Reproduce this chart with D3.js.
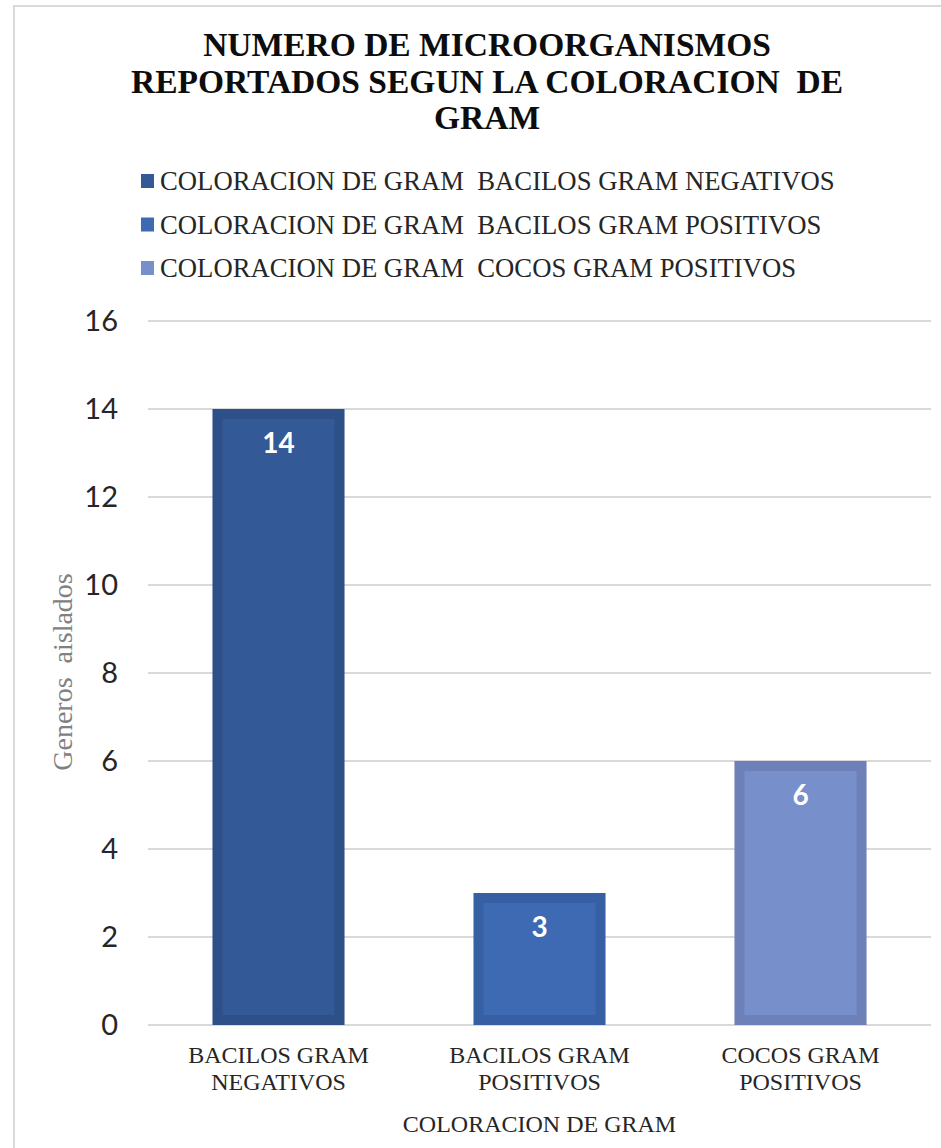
<!DOCTYPE html>
<html>
<head>
<meta charset="utf-8">
<script src="https://cdn.jsdelivr.net/npm/d3@7"></script>
<style>
  body { margin: 0; background: #fff; }
  svg { display: block; }
</style>
</head>
<body>
<svg id="chart" width="941" height="1148"></svg>
<script>
// Data
const categories = ['BACILOS GRAM NEGATIVOS', 'BACILOS GRAM POSITIVOS', 'COCOS GRAM POSITIVOS'];
const categoryLines = [['BACILOS GRAM', 'NEGATIVOS'], ['BACILOS GRAM', 'POSITIVOS'], ['COCOS GRAM', 'POSITIVOS']];
const values = [14, 3, 6];
const legendLabels = [
  'COLORACION DE GRAM  BACILOS GRAM NEGATIVOS',
  'COLORACION DE GRAM  BACILOS GRAM POSITIVOS',
  'COLORACION DE GRAM  COCOS GRAM POSITIVOS'
];
const yTicks = [0, 2, 4, 6, 8, 10, 12, 14, 16];
const titleLines = ['NUMERO DE MICROORGANISMOS', 'REPORTADOS SEGUN LA COLORACION  DE', 'GRAM'];

const fills = ['#335996', '#3e69b3', '#7790cb'];
const borders = ['#2e5088', '#3760a4', '#6e80b8'];

const SERIF = '"Liberation Serif", "Times New Roman", serif';
const SANS = 'Lato, "Noto Sans", sans-serif';

const svg = d3.select('#chart');

// outer frame
svg.append('rect')
  .attr('x', 14).attr('y', 6).attr('width', 960).attr('height', 1160)
  .attr('fill', 'none').attr('stroke', '#d9d9d9').attr('stroke-width', 2);

const margin = { left: 148, right: 931, top: 321, bottom: 1025 };

const x = d3.scaleBand().domain(categories).range([margin.left, margin.right]).paddingInner(0.494).paddingOuter(0.247);
const y = d3.scaleLinear().domain([0, 16]).range([margin.bottom, margin.top]);

// Title
svg.append('text')
  .attr('font-family', SERIF)
  .attr('text-anchor', 'middle')
  .attr('font-weight', 'bold')
  .attr('font-size', 33.5)
  .attr('fill', '#0d0d0d')
  .style('white-space', 'pre')
  .selectAll('tspan')
  .data(titleLines)
  .join('tspan')
  .attr('x', 487)
  .attr('y', (d, i) => 56 + i * 36.5)
  .text(d => d);

// Legend
const legend = svg.append('g').selectAll('g')
  .data(legendLabels)
  .join('g')
  .attr('transform', (d, i) => `translate(141, ${181 + i * 43.5})`);

legend.append('rect')
  .attr('x', 0).attr('y', -7).attr('width', 13).attr('height', 14)
  .attr('fill', (d, i) => fills[i]);

legend.append('text')
  .attr('font-family', SERIF)
  .attr('x', 19).attr('y', 9)
  .attr('font-size', 26.7)
  .attr('fill', '#262626')
  .style('white-space', 'pre')
  .text(d => d);

// Gridlines
svg.append('g').selectAll('line')
  .data(yTicks)
  .join('line')
  .attr('x1', margin.left).attr('x2', margin.right)
  .attr('y1', d => y(d)).attr('y2', d => y(d))
  .attr('stroke', '#d9d9d9').attr('stroke-width', 2);

// Y axis tick labels
svg.append('g').selectAll('text')
  .data(yTicks)
  .join('text')
  .attr('font-family', SANS)
  .attr('x', 118)
  .attr('y', d => y(d))
  .attr('dy', '0.35em')
  .attr('text-anchor', 'end')
  .attr('font-size', 29)
  .attr('fill', '#262626')
  .text(d => d);

// Y axis title
svg.append('text')
  .attr('font-family', SERIF)
  .attr('transform', 'translate(72, 672) rotate(-90)')
  .attr('text-anchor', 'middle')
  .attr('font-size', 28)
  .attr('fill', '#808080')
  .style('white-space', 'pre')
  .text('Generos  aislados');

// Bars
const bars = svg.append('g').selectAll('g')
  .data(values)
  .join('g');

bars.append('rect')
  .attr('x', (d, i) => x(categories[i]))
  .attr('y', d => y(d))
  .attr('width', x.bandwidth())
  .attr('height', d => y(0) - y(d))
  .attr('fill', (d, i) => borders[i]);

bars.append('rect')
  .attr('x', (d, i) => x(categories[i]) + 10)
  .attr('y', d => y(d) + 10)
  .attr('width', x.bandwidth() - 20)
  .attr('height', d => Math.max(0, y(0) - y(d) - 20))
  .attr('fill', (d, i) => fills[i]);

bars.append('text')
  .attr('font-family', SANS)
  .attr('x', (d, i) => x(categories[i]) + x.bandwidth() / 2)
  .attr('y', d => y(d) + 34)
  .attr('dy', '0.35em')
  .attr('text-anchor', 'middle')
  .attr('font-size', 28)
  .attr('font-weight', 'bold')
  .attr('fill', '#ffffff')
  .text(d => d);

// X category labels
svg.append('g').selectAll('text')
  .data(categoryLines)
  .join('text')
  .attr('font-family', SERIF)
  .attr('text-anchor', 'middle')
  .attr('font-size', 24)
  .attr('fill', '#262626')
  .selectAll('tspan')
  .data((d, i) => d.map(t => ({ t, c: categories[i] })))
  .join('tspan')
  .attr('x', d => x(d.c) + x.bandwidth() / 2)
  .attr('y', (d, j) => 1063 + j * 27)
  .text(d => d.t);

// X axis title
svg.append('text')
  .attr('font-family', SERIF)
  .attr('x', (margin.left + margin.right) / 2)
  .attr('y', 1132)
  .attr('text-anchor', 'middle')
  .attr('font-size', 24)
  .attr('fill', '#262626')
  .text('COLORACION DE GRAM');
</script>
</body>
</html>
